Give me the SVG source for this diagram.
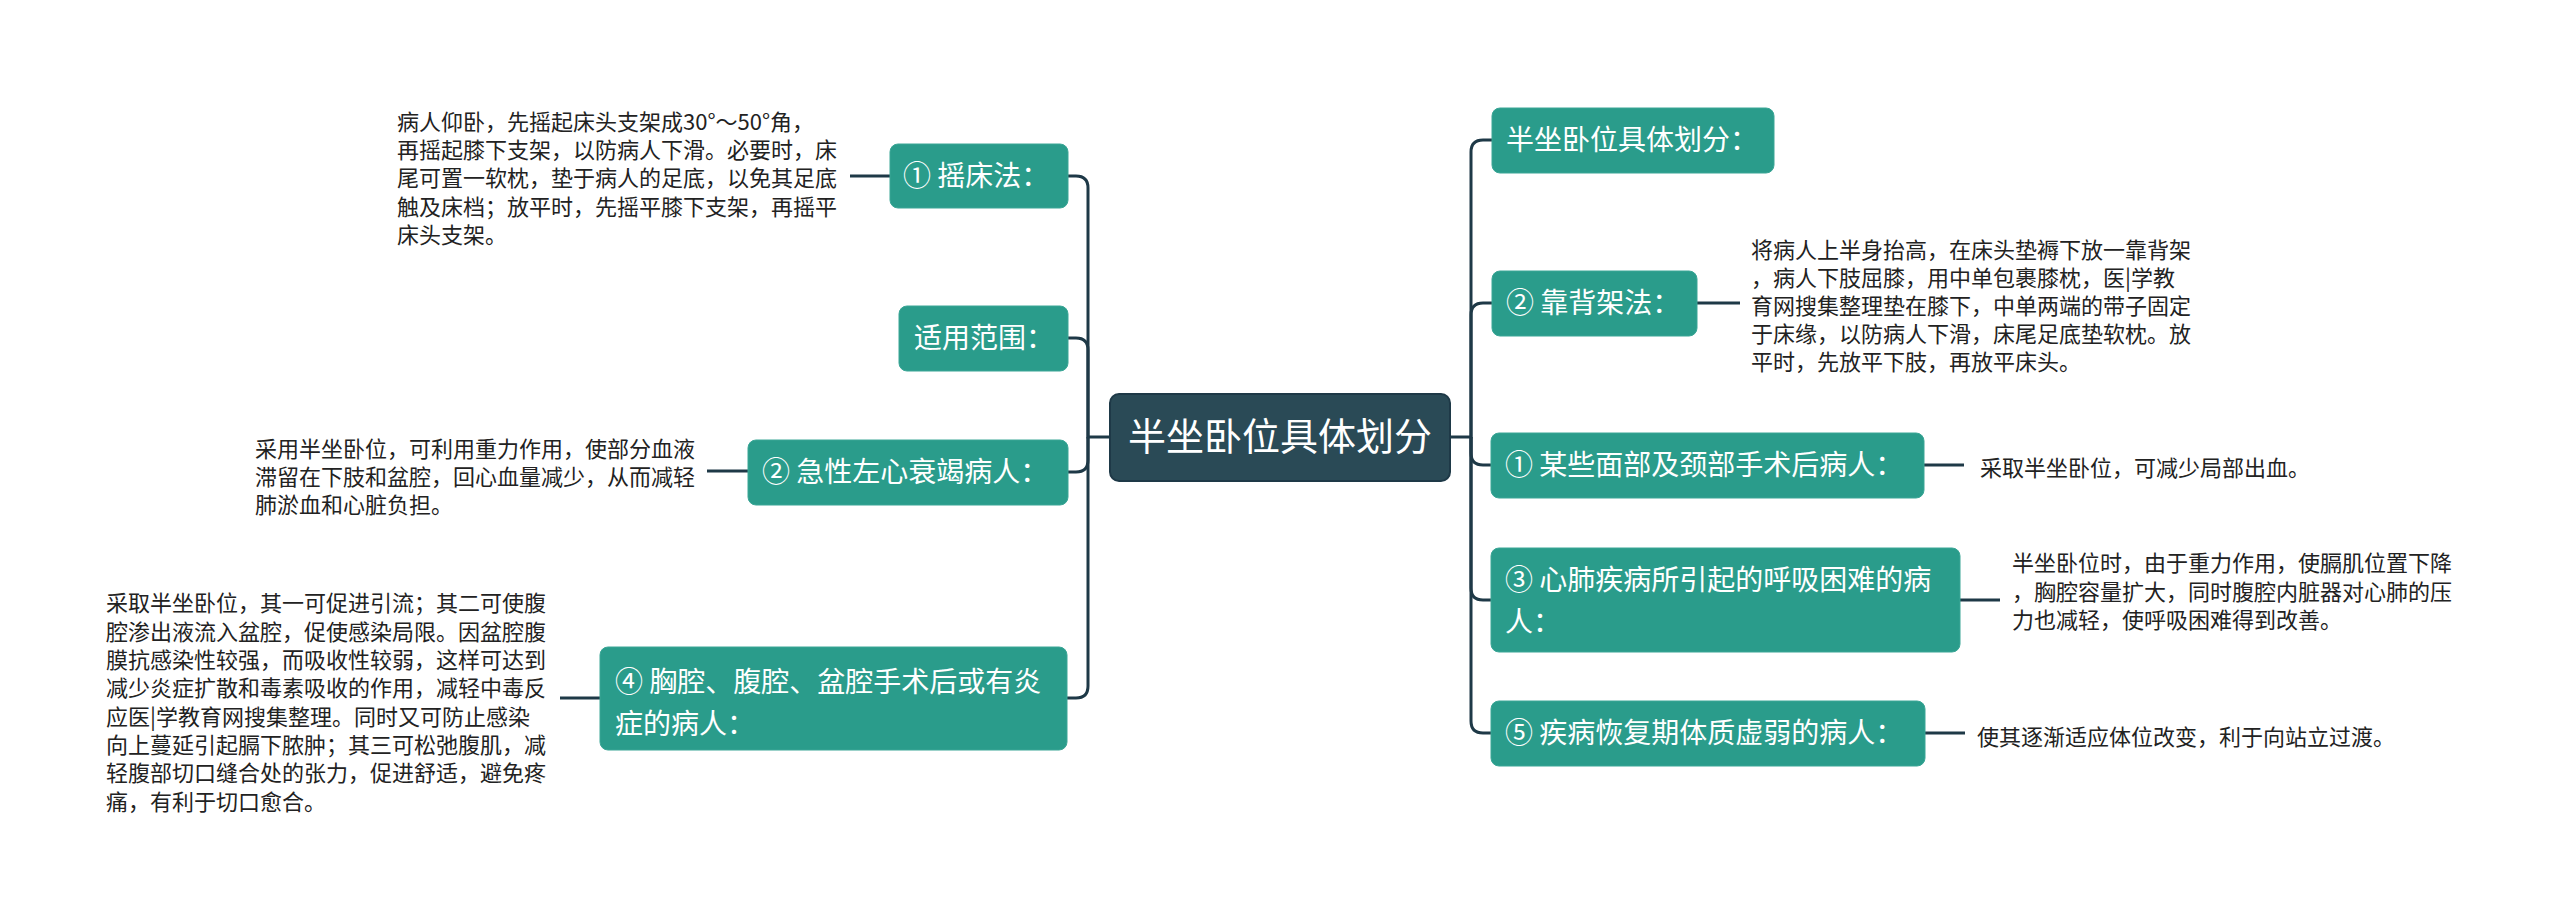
<svg xmlns="http://www.w3.org/2000/svg" width="2560" height="917" viewBox="0 0 2560 917">
<style>
.bg{fill:#ffffff}
.node rect{fill:#2a9c8b;stroke:#3aa696;stroke-width:1}
.center rect{fill:#2a4a56;stroke:#1e3947;stroke-width:2}
.nt{font-family:"Noto Sans CJK SC","Noto Sans",sans-serif;font-size:28px;fill:#ffffff}
.ct{font-family:"Noto Sans CJK SC","Noto Sans",sans-serif;font-size:38px;fill:#ffffff}
.dt{font-family:"Noto Sans CJK SC","Noto Sans",sans-serif;font-size:22px;fill:#222222}
.conn path{fill:none;stroke:#1e3947;stroke-width:3}
</style>
<rect class="bg" x="0" y="0" width="2560" height="917"/>
<g id="connectors" class="conn">
<path d="M1110 437 H1088 V188 Q1088 176 1076 176 H1068"/>
<path d="M1088 437 V350 Q1088 338 1076 338 H1068"/>
<path d="M1088 437 V460 Q1088 472 1076 472 H1068"/>
<path d="M1088 437 V686 Q1088 698 1076 698 H1067"/>
<path d="M1450 437 H1471 V152 Q1471 140 1483 140 H1492"/>
<path d="M1471 437 V315 Q1471 303 1483 303 H1492"/>
<path d="M1471 437 V453 Q1471 465 1483 465 H1491"/>
<path d="M1471 437 V588 Q1471 600 1483 600 H1491"/>
<path d="M1471 437 V721 Q1471 733 1483 733 H1491"/>
<path d="M890 176 H850"/>
<path d="M748 471 H707"/>
<path d="M600 698 H560"/>
<path d="M1697 303 H1740"/>
<path d="M1924 465 H1964"/>
<path d="M1960 600 H2000"/>
<path d="M1925 733 H1965"/>
</g>
<g id="center" class="center">
<rect x="1110" y="394" width="340" height="87" rx="9"/>
<text class="ct" x="1280" y="450" text-anchor="middle">半坐卧位具体划分</text>
</g>
<g id="n-yaochuang" class="node">
<rect x="890" y="144" width="178" height="64" rx="8"/>
<text class="nt" x="903" y="186">① 摇床法：</text>
</g>
<g id="d-yaochuang">
<text class="dt" x="397" y="130">病人仰卧，先摇起床头支架成30°～50°角，</text>
<text class="dt" x="397" y="158">再摇起膝下支架，以防病人下滑。必要时，床</text>
<text class="dt" x="397" y="186">尾可置一软枕，垫于病人的足底，以免其足底</text>
<text class="dt" x="397" y="215">触及床档；放平时，先摇平膝下支架，再摇平</text>
<text class="dt" x="397" y="243">床头支架。</text>
</g>
<g id="n-fanwei" class="node">
<rect x="899" y="306" width="169" height="65" rx="8"/>
<text class="nt" x="914" y="348">适用范围：</text>
</g>
<g id="n-xinshuai" class="node">
<rect x="748" y="440" width="320" height="65" rx="8"/>
<text class="nt" x="762" y="482">② 急性左心衰竭病人：</text>
</g>
<g id="d-xinshuai">
<text class="dt" x="255" y="457">采用半坐卧位，可利用重力作用，使部分血液</text>
<text class="dt" x="255" y="485">滞留在下肢和盆腔，回心血量减少，从而减轻</text>
<text class="dt" x="255" y="513">肺淤血和心脏负担。</text>
</g>
<g id="n-xiongqiang" class="node">
<rect x="600" y="647" width="467" height="103" rx="8"/>
<text class="nt" x="615" y="692">④ 胸腔、腹腔、盆腔手术后或有炎</text>
<text class="nt" x="615" y="734">症的病人：</text>
</g>
<g id="d-xiongqiang">
<text class="dt" x="106" y="611">采取半坐卧位，其一可促进引流；其二可使腹</text>
<text class="dt" x="106" y="640">腔渗出液流入盆腔，促使感染局限。因盆腔腹</text>
<text class="dt" x="106" y="668">膜抗感染性较强，而吸收性较弱，这样可达到</text>
<text class="dt" x="106" y="696">减少炎症扩散和毒素吸收的作用，减轻中毒反</text>
<text class="dt" x="106" y="725">应医|学教育网搜集整理。同时又可防止感染</text>
<text class="dt" x="106" y="753">向上蔓延引起膈下脓肿；其三可松弛腹肌，减</text>
<text class="dt" x="106" y="781">轻腹部切口缝合处的张力，促进舒适，避免疼</text>
<text class="dt" x="106" y="810">痛，有利于切口愈合。</text>
</g>
<g id="n-huafen" class="node">
<rect x="1492" y="108" width="282" height="65" rx="8"/>
<text class="nt" x="1506" y="150">半坐卧位具体划分：</text>
</g>
<g id="n-kaobei" class="node">
<rect x="1492" y="271" width="205" height="65" rx="8"/>
<text class="nt" x="1506" y="313">② 靠背架法：</text>
</g>
<g id="d-kaobei">
<text class="dt" x="1751" y="258">将病人上半身抬高，在床头垫褥下放一靠背架</text>
<text class="dt" x="1751" y="286">，病人下肢屈膝，用中单包裹膝枕，医|学教</text>
<text class="dt" x="1751" y="314">育网搜集整理垫在膝下，中单两端的带子固定</text>
<text class="dt" x="1751" y="342">于床缘，以防病人下滑，床尾足底垫软枕。放</text>
<text class="dt" x="1751" y="370">平时，先放平下肢，再放平床头。</text>
</g>
<g id="n-mianbu" class="node">
<rect x="1491" y="433" width="433" height="65" rx="8"/>
<text class="nt" x="1505" y="475">① 某些面部及颈部手术后病人：</text>
</g>
<g id="d-mianbu">
<text class="dt" x="1980" y="476">采取半坐卧位，可减少局部出血。</text>
</g>
<g id="n-xinfei" class="node">
<rect x="1491" y="548" width="469" height="104" rx="8"/>
<text class="nt" x="1505" y="590">③ 心肺疾病所引起的呼吸困难的病</text>
<text class="nt" x="1505" y="632">人：</text>
</g>
<g id="d-xinfei">
<text class="dt" x="2012" y="571">半坐卧位时，由于重力作用，使膈肌位置下降</text>
<text class="dt" x="2012" y="600">，胸腔容量扩大，同时腹腔内脏器对心肺的压</text>
<text class="dt" x="2012" y="628">力也减轻，使呼吸困难得到改善。</text>
</g>
<g id="n-huifu" class="node">
<rect x="1491" y="701" width="434" height="65" rx="8"/>
<text class="nt" x="1505" y="743">⑤ 疾病恢复期体质虚弱的病人：</text>
</g>
<g id="d-huifu">
<text class="dt" x="1977" y="745">使其逐渐适应体位改变，利于向站立过渡。</text>
</g>
</svg>
